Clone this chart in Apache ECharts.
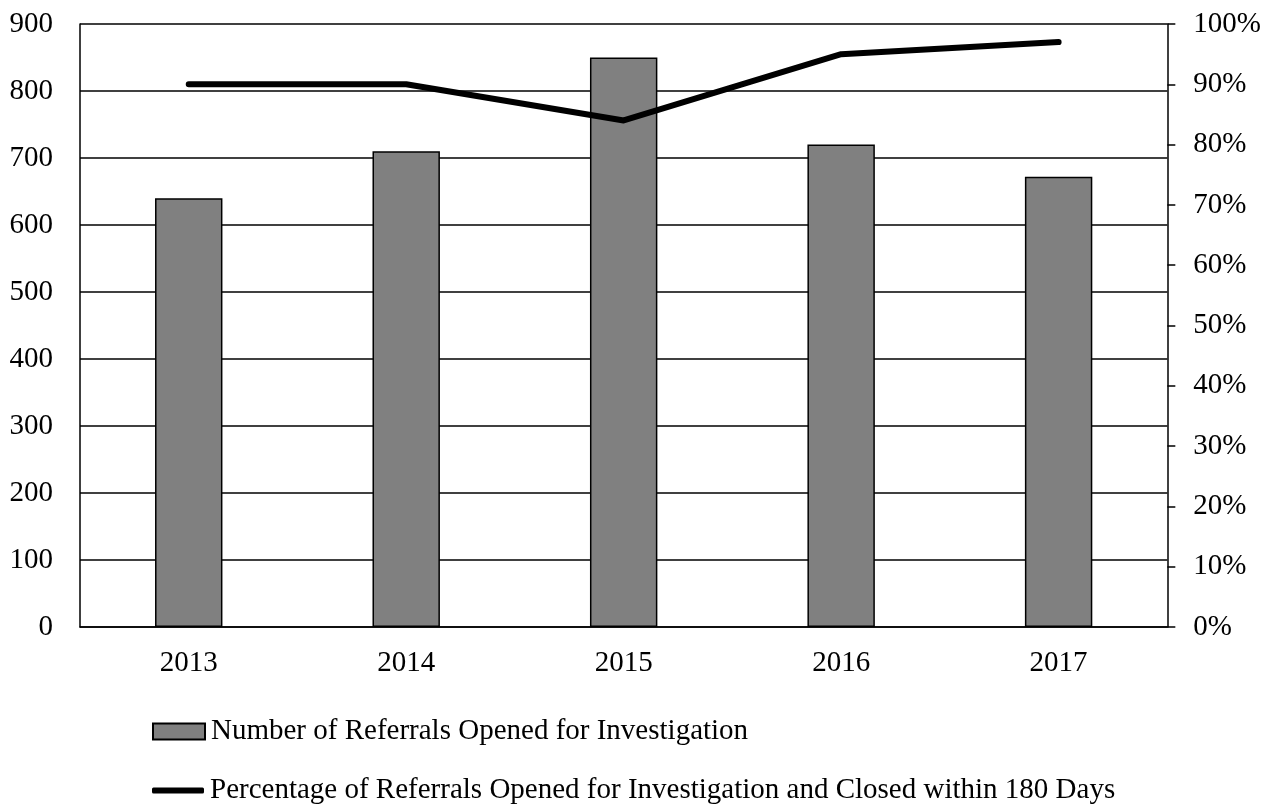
<!DOCTYPE html>
<html><head><meta charset="utf-8">
<script src="https://cdn.jsdelivr.net/npm/echarts@6/dist/echarts.min.js"></script>
<style>html,body{margin:0;padding:0;background:#fff}#c{width:1264px;height:805px}</style>
</head><body><div id="c"></div>
<script>
const categories = ['2013','2014','2015','2016','2017'];
const referralsOpened = [640, 710, 850, 720, 672];
const pctClosedWithin180 = [0.90, 0.90, 0.84, 0.95, 0.97];
const barName = 'Number of Referrals Opened for Investigation';
const lineName = 'Percentage of Referrals Opened for Investigation and Closed within 180 Days';
const font = 'Liberation Serif';
const FS = 29;
const chart = echarts.init(document.getElementById('c'));
chart.setOption({
  animation: false,
  textStyle: {fontFamily: font, color: '#000'},
  grid: {left: 80, right: 94, top: 24, bottom: 178, containLabel: false},
  legend: [{
    left: 152, top: 717, itemWidth: 52, itemHeight: 16, padding: 0,
    textStyle: {fontFamily: font, fontSize: FS, color: '#000', padding: [0,0,0,1]},
    data: [{name: barName, icon: 'rect'}]
  }, {
    left: 152, top: 776, itemWidth: 52, itemHeight: 6, padding: 0,
    textStyle: {fontFamily: font, fontSize: FS, color: '#000', padding: [0,0,0,1]},
    data: [{name: lineName, icon: 'roundRect', itemStyle: {color: '#000', borderWidth: 0}}]
  }],
  xAxis: {
    type: 'category', data: categories,
    axisLine: {lineStyle: {color: '#000', width: 1.5}},
    axisTick: {show: false},
    axisLabel: {fontFamily: font, fontSize: FS, color: '#000', margin: 22}
  },
  yAxis: [{
    type: 'value', min: 0, max: 900, interval: 100,
    axisLine: {show: true, lineStyle: {color: '#000', width: 1.5}},
    axisTick: {show: false},
    splitLine: {lineStyle: {color: '#000', width: 1.5}},
    axisLabel: {fontFamily: font, fontSize: FS, color: '#000', margin: 27}
  }, {
    type: 'value', min: 0, max: 1, interval: 0.1, position: 'right',
    axisLine: {show: true, lineStyle: {color: '#000', width: 1.5}},
    axisTick: {show: true, length: 8, lineStyle: {color: '#000', width: 1.5}},
    splitLine: {show: false},
    axisLabel: {fontFamily: font, fontSize: FS, color: '#000', margin: 26,
      formatter: v => Math.round(v * 100) + '%'}
  }],
  series: [{
    name: barName, type: 'bar', data: referralsOpened, barWidth: '31%',
    itemStyle: {color: '#808080', borderColor: '#000', borderWidth: 1.5}
  }, {
    name: lineName, type: 'line', yAxisIndex: 1, data: pctClosedWithin180,
    symbol: 'none', lineStyle: {color: '#000', width: 6, cap: 'round', join: 'round'},
    itemStyle: {color: '#000'}
  }]
});
</script></body></html>
